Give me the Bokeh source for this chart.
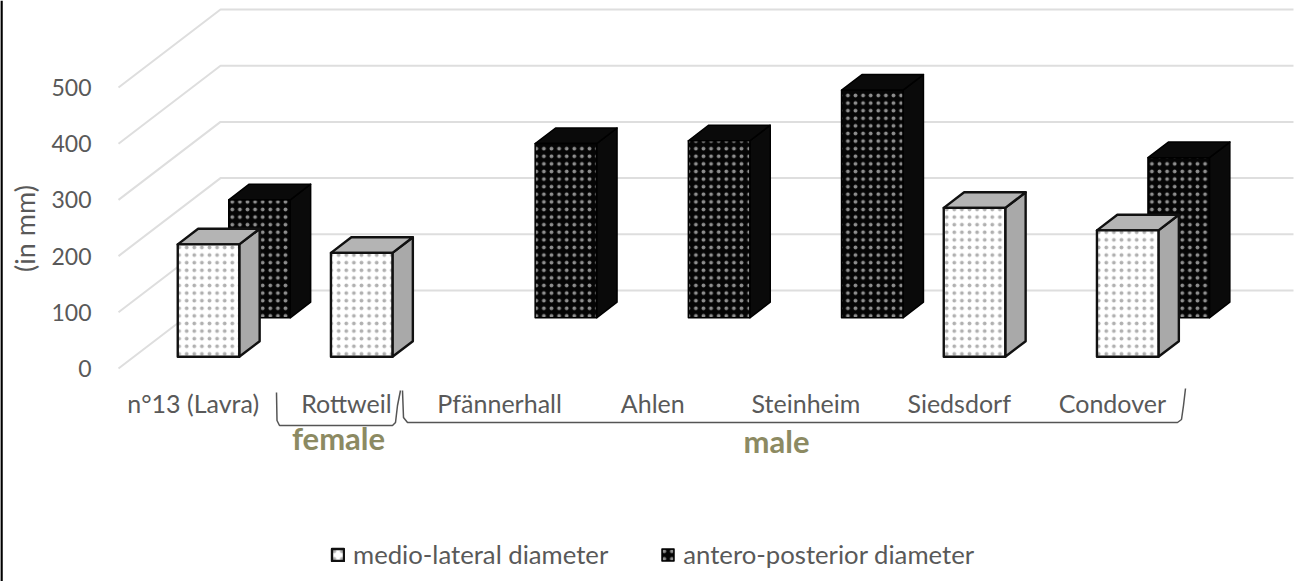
from bokeh.core.properties import value
from bokeh.embed import file_html
from bokeh.models import ColumnDataSource, Legend, LegendItem, Range1d
from bokeh.plotting import figure
from bokeh.resources import INLINE

# Chart content
categories = ["n°13 (Lavra)", "Rottweil", "Pfännerhall", "Ahlen", "Steinheim", "Siedsdorf", "Condover"]
medio_lateral = [200, 185, None, None, None, 265, 225]
antero_posterior = [210, None, 310, 315, 405, None, 285]
tick_values = [0, 100, 200, 300, 400, 500]
series_names = ["medio-lateral diameter", "antero-posterior diameter"]
group_names = ["female", "male"]
axis_title = "(in mm)"

W, H = 1299, 581

# Oblique projection of the 3-D chart box onto the flat frame
PX_PER_CAT = 153.2
PX_PER_VAL = 0.562
X0_PX = 192.7
Y0_PX = 368.0
DEPTH_X = 102 / PX_PER_CAT   # category units per unit of depth
DEPTH_Y = 78 / PX_PER_VAL    # value units per unit of depth
BAR_W = 61.5 / PX_PER_CAT


def sx(px):
    return (px - X0_PX) / PX_PER_CAT


def sy(py):
    return (Y0_PX - py) / PX_PER_VAL


p = figure(
    width=W, height=H, output_backend="svg", toolbar_location=None,
    x_range=Range1d(sx(0), sx(W)), y_range=Range1d(sy(H), sy(0)),
    min_border=0, outline_line_color=None, background_fill_color="white",
)
p.axis.visible = False
p.grid.visible = False

# Left edge rule of the figure
p.line([sx(1), sx(1)], [sy(0), sy(H)], line_color="black", line_width=2.5)

# Wall and floor gridlines
grid_xs = [[sx(118), sx(118) + DEPTH_X, sx(1293)] for _ in tick_values]
grid_ys = [[v, v + DEPTH_Y, v + DEPTH_Y] for v in tick_values]
p.multi_line(grid_xs, grid_ys, line_color="#dedede", line_width=2)


def prism(i, v, d0, d1):
    """Front, side and top faces of one bar at category i and depth d0..d1."""
    x0 = i + d0 * DEPTH_X - BAR_W / 2
    x1 = x0 + BAR_W
    y0 = d0 * DEPTH_Y
    y1 = y0 + v
    dx = (d1 - d0) * DEPTH_X
    dy = (d1 - d0) * DEPTH_Y
    front = ([x0, x1, x1, x0], [y0, y0, y1, y1])
    side = ([x1, x1 + dx, x1 + dx, x1], [y0, y0 + dy, y1 + dy, y1])
    top = ([x0, x1, x1 + dx, x0 + dx], [y1, y1, y1 + dy, y1 + dy])
    return front, side, top


def draw_series(values, d0, d1, front_style, side_style, top_style):
    faces = [prism(i, v, d0, d1) for i, v in enumerate(values) if v is not None]
    out = []
    for k, style in ((1, side_style), (2, top_style), (0, front_style)):
        src = ColumnDataSource(dict(xs=[f[k][0] for f in faces], ys=[f[k][1] for f in faces]))
        out.append(p.patches("xs", "ys", source=src, line_join="round", **style))
    return out[-1]


# Rear row first so the front row overlaps it
dark = dict(line_color="black", line_width=1.5)
r_ap = draw_series(
    antero_posterior, 0.65, 0.85,
    dict(fill_color="#050505", hatch_pattern="dot", hatch_color="#8f8f8f", hatch_scale=7.6, hatch_weight=0.5, **dark),
    dict(fill_color="#0a0a0a", **dark),
    dict(fill_color="#0a0a0a", **dark),
)
outline = dict(line_color="#111111", line_width=2.4)
r_ml = draw_series(
    medio_lateral, 0.15, 0.35,
    dict(fill_color="white", hatch_pattern="dot", hatch_color="#b0b0b0", hatch_scale=7.6, hatch_weight=0.5, **outline),
    dict(fill_color="#a9a9a9", **outline),
    dict(fill_color="#b4b4b4", **outline),
)

FONT = value("Lato")
GREY = "#595959"

# Value labels
p.text([sx(91)] * len(tick_values), tick_values, text=[str(v) for v in tick_values],
       text_font=FONT, text_font_size="23px", text_color=GREY,
       text_align="right", text_baseline="middle")

# Category labels
p.text(list(range(len(categories))), [sy(402)] * len(categories), text=categories,
       text_font=FONT, text_font_size="25px", text_color=GREY,
       text_align="center", text_baseline="middle")

# Axis title
p.text([sx(24)], [sy(228)], text=[axis_title], angle=1.5708,
       text_font=FONT, text_font_size="27px", text_color=GREY,
       text_align="center", text_baseline="middle")

# Brackets under the category labels
brace_x = [
    [276, 276.5, 279, 392, 395, 397, 400],
    [402, 403, 407, 1177, 1181, 1183, 1185],
]
brace_y = [
    [392, 420, 425, 425, 422, 405, 390],
    [390, 417, 422, 422, 419, 405, 388],
]
p.multi_line([[sx(v) for v in xs] for xs in brace_x],
             [[sy(v) for v in ys] for ys in brace_y],
             line_color="#555555", line_width=1.5)

# Group names
p.text([sx(338), sx(776)], [sy(437), sy(440)], text=group_names,
       text_font=FONT, text_font_size="31px", text_font_style="bold", text_color="#8c8a62",
       text_align="center", text_baseline="middle")

legend = Legend(
    items=[LegendItem(label=series_names[0], renderers=[r_ml]),
           LegendItem(label=series_names[1], renderers=[r_ap])],
    location=(330, 12), orientation="horizontal",
    background_fill_alpha=0, border_line_color=None, padding=0, margin=0,
    glyph_width=15, glyph_height=15, spacing=52, label_standoff=8,
    label_text_font="Lato", label_text_font_size="25.7px", label_text_color=GREY,
    click_policy="none",
)
p.add_layout(legend, "center")

open("out.html", "w").write(file_html(p, INLINE))
